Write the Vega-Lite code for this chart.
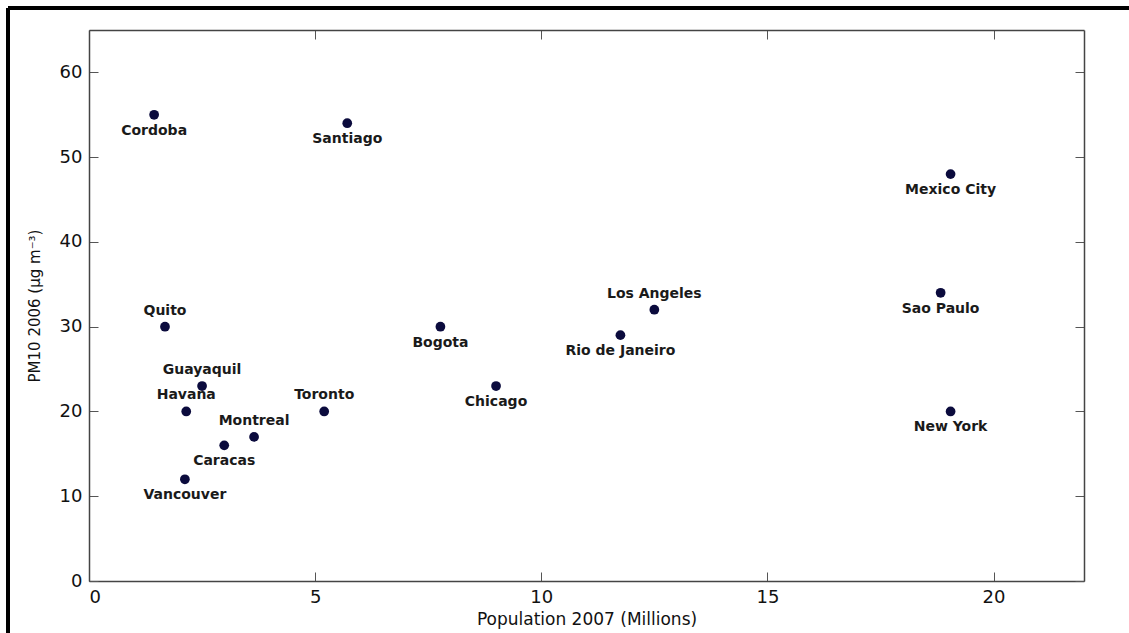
{
  "$schema": "https://vega.github.io/schema/vega-lite/v6.json",
  "width": 995,
  "height": 551,
  "autosize": "none",
  "padding": {"left": 89, "top": 30, "right": 45, "bottom": 52},
  "background": "white",
  "config": {
    "view": {"stroke": null},
    "font": "DejaVu Sans",
    "axis": {
      "grid": false,
      "domainColor": "#444444",
      "domainWidth": 1.5,
      "tickColor": "#555555",
      "tickWidth": 1,
      "tickSize": -9,
      "labelFont": "DejaVu Sans",
      "labelFontSize": 18,
      "labelColor": "#111111",
      "titleFont": "DejaVu Sans",
      "titleFontSize": 17,
      "titleFontWeight": "normal",
      "titleColor": "#111111"
    }
  },
  "data": {
    "values": [
      {"city": "Cordoba", "pop": 1.44, "pm10": 55},
      {"city": "Santiago", "pop": 5.71, "pm10": 54},
      {"city": "Mexico City", "pop": 19.05, "pm10": 48},
      {"city": "Quito", "pop": 1.68, "pm10": 30},
      {"city": "Bogota", "pop": 7.77, "pm10": 30},
      {"city": "Los Angeles", "pop": 12.5, "pm10": 32},
      {"city": "Rio de Janeiro", "pop": 11.75, "pm10": 29},
      {"city": "Sao Paulo", "pop": 18.83, "pm10": 34},
      {"city": "Chicago", "pop": 9.0, "pm10": 23},
      {"city": "Guayaquil", "pop": 2.5, "pm10": 23},
      {"city": "Havana", "pop": 2.15, "pm10": 20},
      {"city": "Toronto", "pop": 5.2, "pm10": 20},
      {"city": "New York", "pop": 19.05, "pm10": 20},
      {"city": "Montreal", "pop": 3.65, "pm10": 17},
      {"city": "Caracas", "pop": 2.99, "pm10": 16},
      {"city": "Vancouver", "pop": 2.12, "pm10": 12}
    ]
  },
  "resolve": {"axis": {"x": "independent", "y": "independent"}},
  "layer": [
    {
      "mark": {"type": "point", "filled": true, "shape": "circle", "size": 95, "color": "#0b0b3d", "opacity": 1},
      "encoding": {
        "x": {
          "field": "pop", "type": "quantitative",
          "scale": {"domain": [0, 22], "nice": false, "zero": false},
          "axis": {"orient": "bottom", "values": [0, 5, 10, 15, 20], "title": "Population 2007 (Millions)", "labelPadding": 16, "titlePadding": 5}
        },
        "y": {
          "field": "pm10", "type": "quantitative",
          "scale": {"domain": [0, 65], "nice": false, "zero": false},
          "axis": {"orient": "left", "values": [0, 10, 20, 30, 40, 50, 60], "title": "PM10 2006 (µg m⁻³)", "titleFontSize": 15, "labelPadding": 16, "titlePadding": 17}
        }
      }
    },
    {
      "transform": [{"filter": {"field": "city", "oneOf": ["Quito", "Los Angeles", "Guayaquil", "Havana", "Toronto", "Montreal"]}}],
      "mark": {"type": "text", "dy": -16, "align": "center", "baseline": "middle", "fontSize": 14, "fontWeight": "bold", "color": "#1a1a1a"},
      "encoding": {
        "x": {"field": "pop", "type": "quantitative", "axis": {"orient": "top", "values": [0, 5, 10, 15, 20], "labels": false, "title": null}},
        "y": {"field": "pm10", "type": "quantitative", "axis": {"orient": "right", "values": [0, 10, 20, 30, 40, 50, 60], "labels": false, "title": null}},
        "text": {"field": "city"}
      }
    },
    {
      "transform": [{"filter": {"not": {"field": "city", "oneOf": ["Quito", "Los Angeles", "Guayaquil", "Havana", "Toronto", "Montreal"]}}}],
      "mark": {"type": "text", "dy": 16, "align": "center", "baseline": "middle", "fontSize": 14, "fontWeight": "bold", "color": "#1a1a1a"},
      "encoding": {
        "x": {"field": "pop", "type": "quantitative", "axis": null},
        "y": {"field": "pm10", "type": "quantitative", "axis": null},
        "text": {"field": "city"}
      }
    },
    {
      "mark": {"type": "rule", "color": "#000000", "strokeWidth": 3, "clip": false},
      "encoding": {
        "x": {"datum": -1.79, "type": "quantitative", "axis": null},
        "y": {"datum": 67.6, "type": "quantitative", "axis": null},
        "y2": {"datum": -8}
      }
    },
    {
      "mark": {"type": "rule", "color": "#000000", "strokeWidth": 3, "clip": false},
      "encoding": {
        "x": {"datum": -1.79, "type": "quantitative", "axis": null},
        "x2": {"datum": 23.2},
        "y": {"datum": 67.6, "type": "quantitative", "axis": null}
      }
    }
  ]
}
